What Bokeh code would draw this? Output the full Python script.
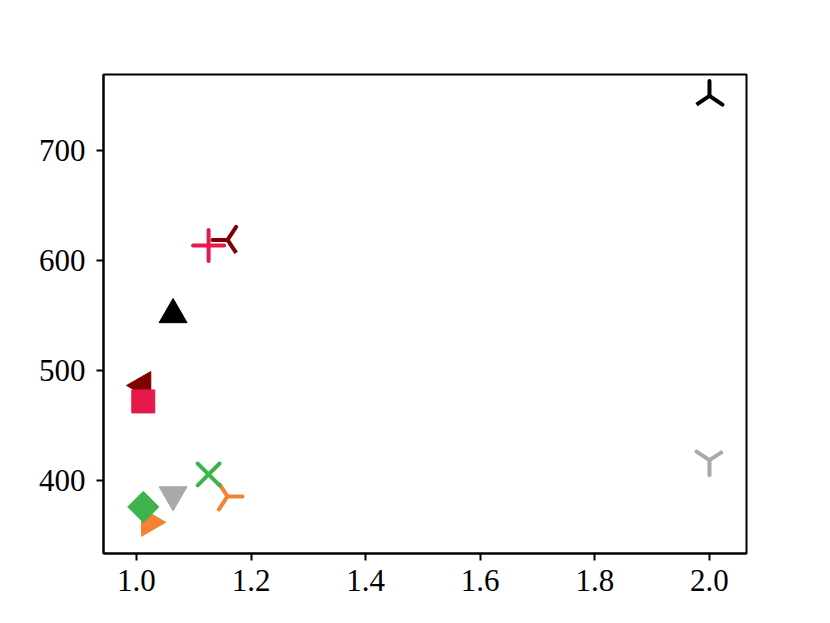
import math
from bokeh.plotting import figure
from bokeh.models import Range1d, FixedTicker, ColumnDataSource
from bokeh.embed import file_html
from bokeh.resources import INLINE

# ---- data ----
point_x = [1.011, 1.012, 1.023, 1.012, 1.064, 1.064, 1.126, 1.159, 1.126, 1.159, 2.0, 2.0]
point_y = [486.5, 472.0, 362.0, 376.0, 551.0, 387.0, 614.0, 385.5, 405.5, 619.0, 750.0, 418.5]
x_ticks = [1.0, 1.2, 1.4, 1.6, 1.8, 2.0]
x_tick_labels = ["1.0", "1.2", "1.4", "1.6", "1.8", "2.0"]
y_ticks = [400, 500, 600, 700]
y_tick_labels = ["400", "500", "600", "700"]

# ---- styles ----
BLACK, GRAY, RED, MAROON, GREEN, ORANGE = "#000000", "#a9a9a9", "#e6194b", "#800000", "#3cb44b", "#f58231"
colors  = [MAROON, RED, ORANGE, GREEN, BLACK, GRAY, RED, ORANGE, GREEN, MAROON, BLACK, GRAY]
markers = ["triangle", "square", "triangle", "square", "triangle", "inverted_triangle",
           "cross", "y", "x", "y", "y", "y"]
angles  = [math.pi/2, 0, -math.pi/2, math.pi/4, 0, 0, 0, math.pi/2, 0, -math.pi/2, math.pi, 0]
sizes   = [28, 23, 28, 22, 28, 28, 31, 30, 31, 30, 30, 30]
filled  = [True, True, True, True, True, True, False, False, False, False, False, False]

p = figure(width=814, height=607, output_backend="svg", toolbar_location=None,
           x_range=Range1d(0.9426, 2.0646), y_range=Range1d(333.6, 769.5),
           min_border_left=103, min_border_right=68, min_border_top=74, min_border_bottom=54)
p.background_fill_color = "white"
p.border_fill_color = "white"
p.outline_line_color = "black"
p.outline_line_width = 2
p.xgrid.visible = False
p.ygrid.visible = False

FONT = "Liberation Serif"
for ax, ticks, labels in ((p.xaxis[0], x_ticks, x_tick_labels), (p.yaxis[0], y_ticks, y_tick_labels)):
    ax.ticker = FixedTicker(ticks=ticks)
    ax.major_label_overrides = {t: l for t, l in zip(ticks, labels)}
    ax.axis_line_width = 2
    ax.axis_line_color = "black"
    ax.major_tick_line_width = 2
    ax.major_tick_out = 7
    ax.major_tick_in = 0
    ax.minor_tick_out = 0
    ax.minor_tick_in = 0
    ax.major_label_text_font = FONT
    ax.major_label_text_font_size = "31px"
    ax.major_label_text_color = "black"
p.yaxis[0].major_label_standoff = 11
p.xaxis[0].major_label_standoff = 9

for i in range(len(point_x)):
    src = ColumnDataSource(dict(x=[point_x[i]], y=[point_y[i]]))
    if filled[i]:
        p.scatter("x", "y", source=src, marker=markers[i], size=sizes[i], angle=angles[i],
                  fill_color=colors[i], line_color=colors[i], line_width=1)
    else:
        p.scatter("x", "y", source=src, marker=markers[i], size=sizes[i], angle=angles[i],
                  line_color=colors[i], line_width=4, line_cap="round")

open("out.html", "w").write(file_html(p, INLINE))
